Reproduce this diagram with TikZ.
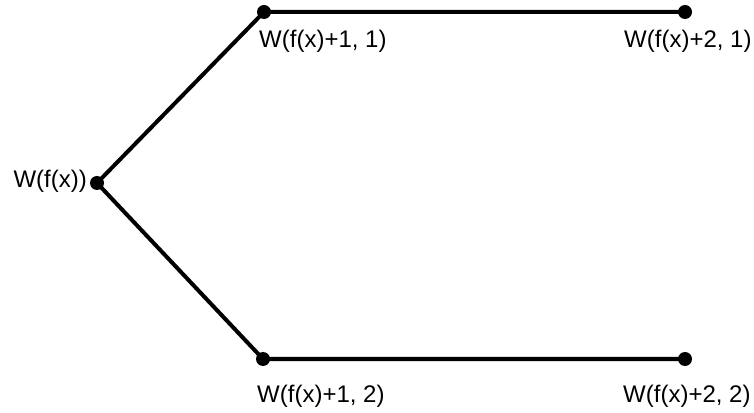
\documentclass[tikz,border=0pt]{standalone}
\usepackage{fontspec}
\setmainfont{Liberation Sans}
\usetikzlibrary{positioning}

\tikzset{
  dot/.style={circle,fill=black,inner sep=0pt,minimum size=14pt},
  lbl/.style={inner sep=0pt,font=\fontsize{24}{27}\selectfont}
}

\begin{document}
\begin{tikzpicture}[line cap=round,line join=round,x=1pt,y=1pt]
\useasboundingbox (0,0) rectangle (754,412);
% the five states
\node[dot] (w) at (97,229) {};
\node[dot] (a1) at (264,400) {};
\node[dot] (b1) at (685,400) {};
\node[dot] (a2) at (263,53) {};
\node[dot] (b2) at (685,53) {};
% branches
\draw[line width=4pt] (w.center) -- (a1.center) -- (b1.center);
\draw[line width=4pt] (w.center) -- (a2.center) -- (b2.center);
% labels
\node[lbl,anchor=east] (lw) at (87,231) {W(f(x))};
\node[lbl,anchor=west] (la1) at (259,371) {W(f(x)+1, 1)};
\node[lbl,anchor=west] (lb1) at (624,371) {W(f(x)+2, 1)};
\node[lbl,anchor=west] (la2) at (257,16) {W(f(x)+1, 2)};
\node[lbl,anchor=west] (lb2) at (623,16) {W(f(x)+2, 2)};
\end{tikzpicture}
\end{document}
